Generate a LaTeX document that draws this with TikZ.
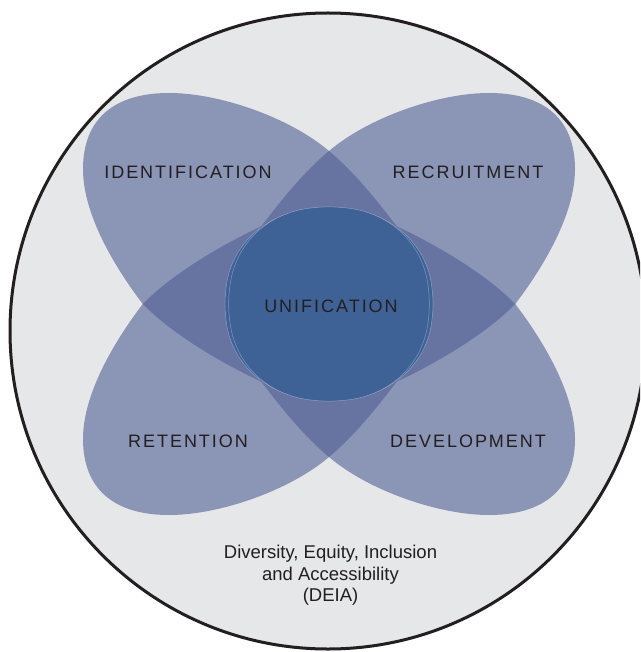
\documentclass[tikz,border=0pt]{standalone}
\usepackage{fontspec}
\setmainfont{Liberation Sans}
\newfontfamily\lobefont[LetterSpace=11]{Liberation Sans}
\definecolor{bgc}{RGB}{230,231,232}
\definecolor{lobec}{RGB}{79,95,149}
\definecolor{corec}{RGB}{62,98,150}
\definecolor{inkc}{RGB}{35,31,32}
\newcommand\mylobepath{(0,-153) .. controls (-40,-187) and (-110,-211) .. (-160,-211)
 .. controls (-215,-211) and (-246,-185) .. (-246,-135)
 .. controls (-246,-90) and (-215,-38) .. (-187,-1)
 .. controls (-159,29) and (-106,60) .. (-67,78)
 .. controls (-35,93) and (40,88) .. (58,50)
 .. controls (78,10) and (92,-50) .. (69,-76)
 .. controls (46,-106) and (25,-132) .. (0,-153) -- cycle}
\newcommand\mycorepath{plot[smooth cycle, tension=0.55] coordinates {
 (104,0) (100.8,28.1) (91.3,51.1) (75.9,70.0) (55.4,84.2) (30.5,93.0) (0,96)
 (-30.5,93.0) (-55.4,84.2) (-75.9,70.0) (-91.3,51.1) (-100.8,28.1) (-104,0)
 (-100.8,-28.1) (-91.3,-51.1) (-75.9,-70.0) (-55.4,-84.2) (-30.5,-93.0) (0,-96)
 (30.5,-93.0) (55.4,-84.2) (75.9,-70.0) (91.3,-51.1) (100.8,-28.1)}}
\begin{document}
\begin{tikzpicture}[x=1pt,y=-1pt,
  lobe/.style={fill=lobec, fill opacity=0.6, draw=none},
  coreline/.style={draw=white, draw opacity=0.35, line width=0.5pt},
  lbl/.style={text=inkc, font=\lobefont\fontsize{18}{21}\selectfont, anchor=base, inner sep=0pt},
  txt/.style={text=inkc, font=\fontsize{18.5}{21}\selectfont, anchor=base, inner sep=0pt}]
\useasboundingbox (0,0) rectangle (640,652);
\clip (0,0) rectangle (640,652);
% outer circle
\draw[draw=inkc, line width=3pt, fill=bgc] (328,331) circle[radius=318];
% four lobes
\begin{scope}[shift={(329,304)}]
  \fill[lobe] \mylobepath;
\end{scope}
\begin{scope}[shift={(329,304)}, xscale=-1]
  \fill[lobe] \mylobepath;
\end{scope}
\begin{scope}[shift={(329,304)}, yscale=-1]
  \fill[lobe] \mylobepath;
\end{scope}
\begin{scope}[shift={(329,304)}, xscale=-1, yscale=-1]
  \fill[lobe] \mylobepath;
\end{scope}
% central core
\begin{scope}[shift={(329,304)}]
  \fill[corec] \mycorepath;
  \draw[coreline] \mycorepath;
  \begin{scope}[xscale=0.965, yscale=1.012]
    \fill[corec] \mycorepath;
    \draw[coreline] \mycorepath;
  \end{scope}
\end{scope}
% labels
\node[lbl] (ident) at (188,179) {IDENTIFICATION};
\node[lbl] (recr) at (468,179) {RECRUITMENT};
\node[lbl] (ret) at (188,447) {RETENTION};
\node[lbl] (dev) at (468,447) {DEVELOPMENT};
\node[lbl] (unif) at (331,312) {UNIFICATION};
\node[txt] (deiaa) at (330.5,558) {Diversity, Equity, Inclusion};
\node[txt] (deiab) at (330.5,580) {and Accessibility};
\node[txt] (deiac) at (330.5,601) {(DEIA)};
\end{tikzpicture}
\end{document}
